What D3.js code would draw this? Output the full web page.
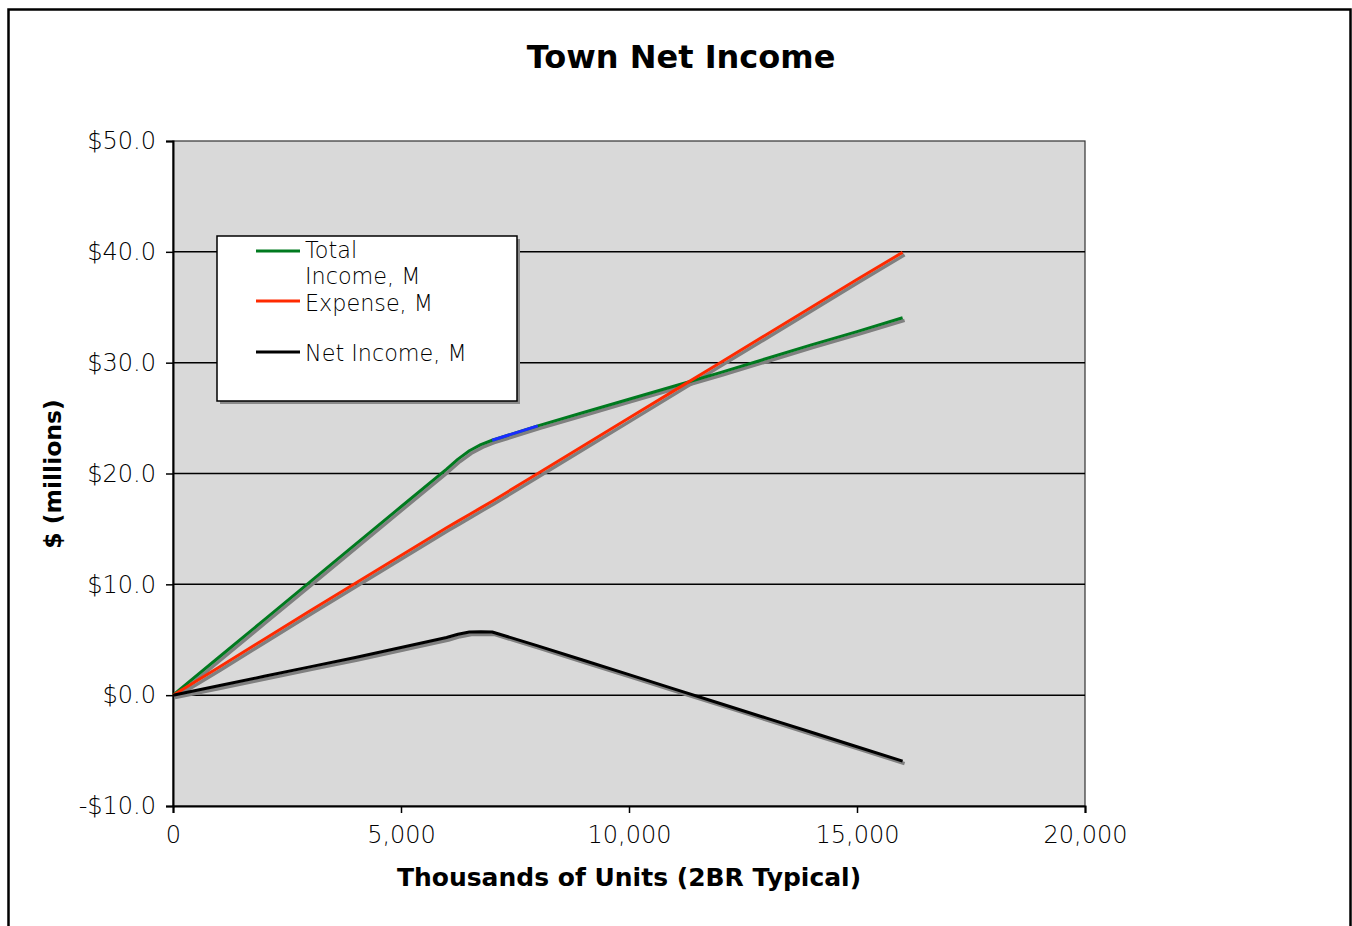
<!DOCTYPE html>
<html>
<head>
<meta charset="utf-8">
<script src="https://cdn.jsdelivr.net/npm/d3@7"></script>
<style>
  html, body { margin: 0; padding: 0; background: #ffffff; }
  svg { display: block; }
</style>
</head>
<body>
<svg id="chart" width="1352" height="926"></svg>
<script>
// Units built (thousands, 2BR typical) and town money flows in $ millions
const units       = [0, 1000, 2000, 3000, 4000, 5000, 6000, 6250, 6500, 6750, 7000, 8000, 9000, 10000, 11000, 12000, 13000, 14000, 15000, 16000];
const totalIncome = [0, 3.4, 6.8, 10.2, 13.6, 17.0, 20.4, 21.3, 22.05, 22.6, 23.0, 24.3, 25.5, 26.7, 27.9, 29.1, 30.35, 31.6, 32.8, 34.05];
const expense     = [0, 2.5, 5.05, 7.6, 10.1, 12.6, 15.1, 15.7, 16.3, 16.9, 17.5, 20.0, 22.5, 25.0, 27.5, 30.0, 32.5, 35.0, 37.5, 39.95];
const netIncome   = [0, 0.85, 1.7, 2.55, 3.4, 4.3, 5.2, 5.5, 5.7, 5.72, 5.7, 4.45, 3.15, 1.85, 0.55, -0.75, -2.05, -3.35, -4.65, -5.95];

// Stretch of the income curve drawn in blue
const highlightRange = [7000, 8000];

const seriesNames  = ["Total\nIncome, M", "Expense, M", "Net Income, M"];
const seriesColors = ["#007a1f", "#ff2a00", "#000000"];

const xTicks = [0, 5000, 10000, 15000, 20000];
const yTicks = [-10, 0, 10, 20, 30, 40, 50];

const svg = d3.select("#chart");

// Outer chart frame
svg.append("rect")
  .attr("x", 8.5).attr("y", 9.5)
  .attr("width", 1342).attr("height", 940)
  .attr("fill", "#ffffff")
  .attr("stroke", "#000").attr("stroke-width", 2.5);

const plot = { left: 173, top: 141, right: 1085, bottom: 806 };

const x = d3.scaleLinear().domain([0, 20000]).range([plot.left, plot.right]);
const y = d3.scaleLinear().domain([-10, 50]).range([plot.bottom, plot.top]);

// Plot background
svg.append("rect")
  .attr("x", plot.left).attr("y", plot.top)
  .attr("width", plot.right - plot.left).attr("height", plot.bottom - plot.top)
  .attr("fill", "#d9d9d9")
  .attr("stroke", "#333").attr("stroke-width", 1.2);

// Horizontal gridlines
svg.append("g")
  .selectAll("line")
  .data(yTicks.filter(t => t > -10 && t < 50))
  .join("line")
  .attr("x1", plot.left).attr("x2", plot.right)
  .attr("y1", d => y(d)).attr("y2", d => y(d))
  .attr("stroke", "#000").attr("stroke-width", 1.5);

const tickFont = "'DejaVu Sans', Verdana, sans-serif";

// Y axis
const yAxis = svg.append("g")
  .attr("transform", `translate(${plot.left},0)`)
  .call(d3.axisLeft(y).tickValues(yTicks).tickSize(7).tickPadding(10)
    .tickFormat(d => (d < 0 ? "-$" : "$") + Math.abs(d).toFixed(1)));
yAxis.select(".domain").attr("stroke", "#000").attr("stroke-width", 2);
yAxis.selectAll(".tick line").attr("stroke", "#000").attr("stroke-width", 1.5);
yAxis.selectAll(".tick text")
  .attr("fill", "#000")
  .style("font-family", tickFont).style("font-size", "24px").style("font-weight", 200);

// X axis
const xAxis = svg.append("g")
  .attr("transform", `translate(0,${plot.bottom})`)
  .call(d3.axisBottom(x).tickValues(xTicks).tickSize(7).tickPadding(13)
    .tickFormat(d3.format(",")));
xAxis.select(".domain").attr("stroke", "#000").attr("stroke-width", 2);
xAxis.selectAll(".tick line").attr("stroke", "#000").attr("stroke-width", 1.5);
xAxis.selectAll(".tick text")
  .attr("fill", "#000")
  .style("font-family", tickFont).style("font-size", "24px").style("font-weight", 200);

// Series lines with a soft drop shadow
const defs = svg.append("defs");
defs.append("filter").attr("id", "soft")
  .append("feGaussianBlur").attr("stdDeviation", 0.6);

const line = d3.line()
  .x(d => x(d[0]))
  .y(d => y(d[1]));

const seriesValues = [totalIncome, expense, netIncome];
const seriesPoints = seriesValues.map(vals => units.map((u, i) => [u, vals[i]]));

const linesG = svg.append("g");
seriesPoints.forEach(pts => {
  linesG.append("path")
    .attr("d", line(pts))
    .attr("fill", "none")
    .attr("stroke", "#808080")
    .attr("stroke-width", 3.4)
    .attr("stroke-linejoin", "round")
    .attr("filter", "url(#soft)")
    .attr("transform", "translate(2,2.5)");
});
seriesPoints.forEach((pts, si) => {
  linesG.append("path")
    .attr("d", line(pts))
    .attr("fill", "none")
    .attr("stroke", seriesColors[si])
    .attr("stroke-width", 3)
    .attr("stroke-linejoin", "round");
});

// Highlighted stretch of total income
const hiPts = seriesPoints[0].filter(p => p[0] >= highlightRange[0] && p[0] <= highlightRange[1]);
linesG.append("path")
  .attr("d", line(hiPts))
  .attr("fill", "none")
  .attr("stroke", "#1a2cff")
  .attr("stroke-width", 3);

// Legend
const legend = svg.append("g");
const lg = { x: 217, y: 236, w: 300, h: 165 };
legend.append("rect")
  .attr("x", lg.x + 3).attr("y", lg.y + 3).attr("width", lg.w).attr("height", lg.h)
  .attr("fill", "#8a8a8a").attr("filter", "url(#soft)");
legend.append("rect")
  .attr("x", lg.x).attr("y", lg.y).attr("width", lg.w).attr("height", lg.h)
  .attr("fill", "#fff").attr("stroke", "#000").attr("stroke-width", 1.5);

const legendRows = [251, 301, 352];
const legendBaselines = [257.5, 310.5, 361];
seriesNames.forEach((name, i) => {
  const ly = legendRows[i];
  legend.append("line")
    .attr("x1", lg.x + 39).attr("x2", lg.x + 83)
    .attr("y1", ly).attr("y2", ly)
    .attr("stroke", seriesColors[i]).attr("stroke-width", 3);
  const t = legend.append("text")
    .attr("x", lg.x + 88).attr("y", legendBaselines[i])
    .attr("fill", "#000")
    .style("font-family", tickFont).style("font-size", "22.3px").style("font-weight", 200);
  name.split("\n").forEach((part, k) => {
    t.append("tspan").attr("x", lg.x + 88).attr("dy", k === 0 ? 0 : 26.5).text(part);
  });
});

// Titles
svg.append("text")
  .attr("x", 681).attr("y", 68)
  .attr("text-anchor", "middle")
  .style("font-family", tickFont).style("font-weight", "bold").style("font-size", "32px")
  .text("Town Net Income");

svg.append("text")
  .attr("x", 629).attr("y", 886)
  .attr("text-anchor", "middle")
  .style("font-family", tickFont).style("font-weight", "bold").style("font-size", "25px")
  .text("Thousands of Units (2BR Typical)");

svg.append("text")
  .attr("transform", "translate(61,474) rotate(-90)")
  .attr("text-anchor", "middle")
  .style("font-family", tickFont).style("font-weight", "bold").style("font-size", "23.5px")
  .text("$ (millions)");
</script>
</body>
</html>
